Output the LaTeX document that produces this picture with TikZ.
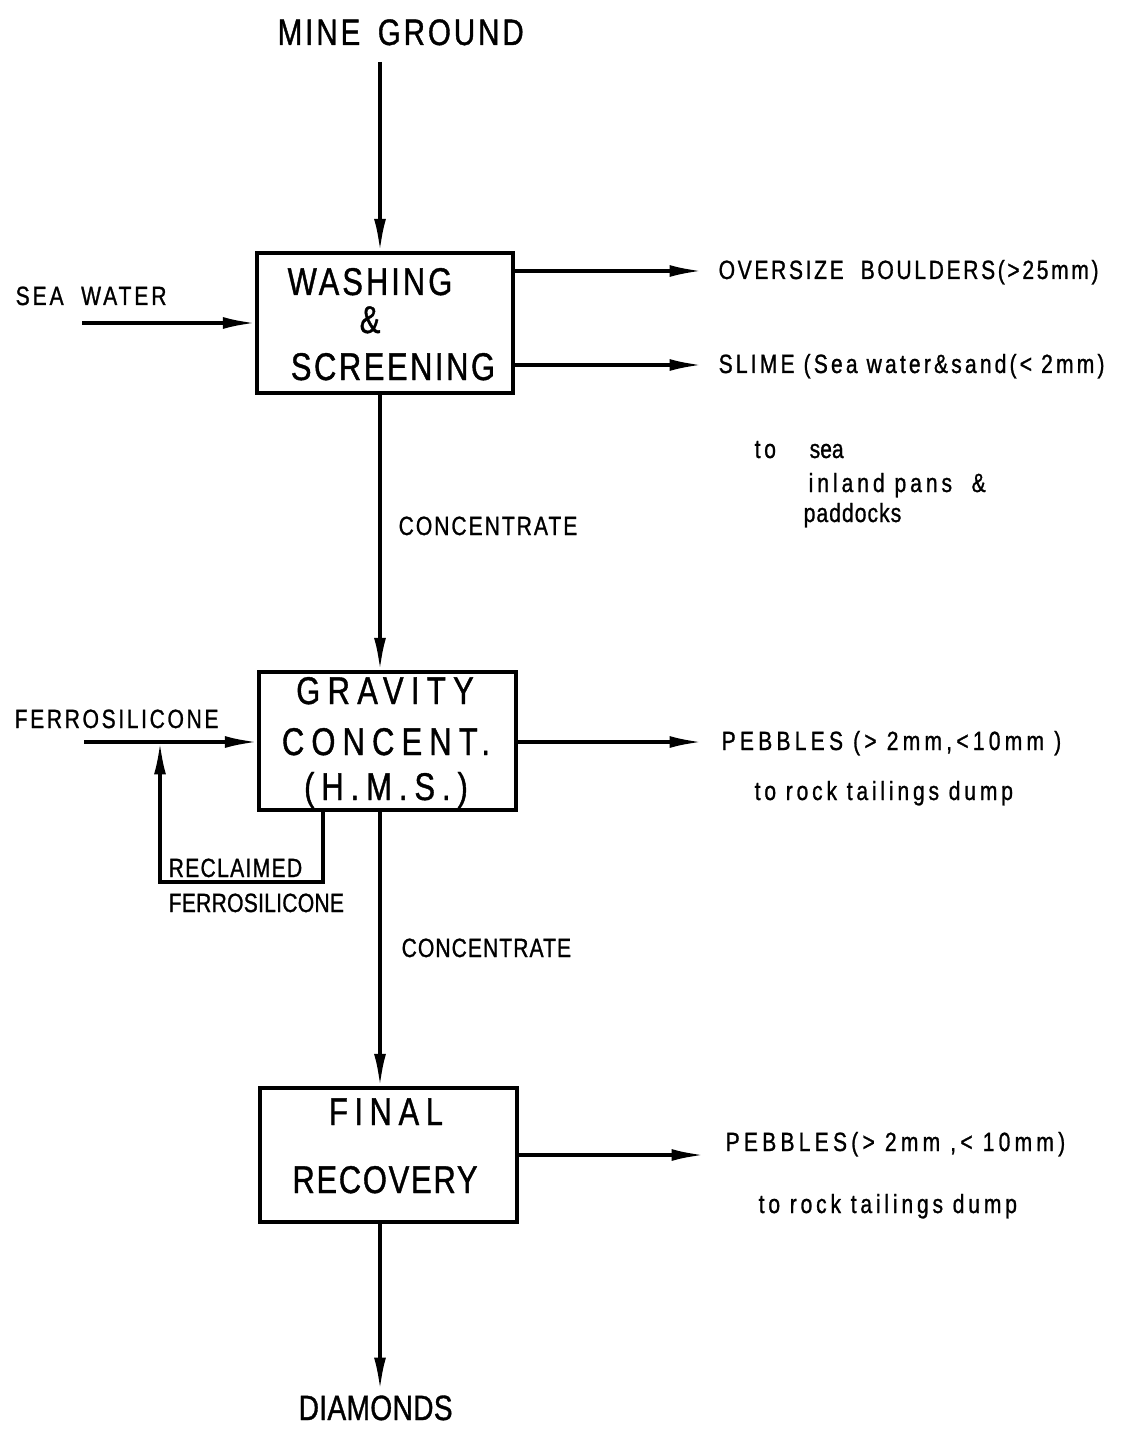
\documentclass[tikz,border=0pt]{standalone}
\usepackage{fontspec}
\setmainfont{Liberation Sans}[FakeStretch=0.8,FakeBold=1]
\usetikzlibrary{arrows.meta}
\newcommand\lf[2]{\fontsize{#1}{#1}\selectfont\addfontfeature{LetterSpace=#2}}
\begin{document}
\begin{tikzpicture}[x=0.02cm,y=-0.02cm,
  line width=1.9pt,
  arr/.style={-{Latex[length=0.65cm,width=0.24cm]}},
  box/.style={draw,line width=1.9pt,inner sep=0pt},
  txt/.style={inner sep=0pt,anchor=base west},
  btx/.style={inner sep=0pt,anchor=base}]
\useasboundingbox (0,0) rectangle (1121,1432);

% top / bottom labels
\node[txt,font=\lf{21}{8}] (mg) at (276,45) {MINE\hspace{0.35cm}GROUND};
\node[txt,font=\lf{20}{1}] (dia) at (297,1420) {DIAMONDS};

% boxes
\node[box,minimum width=5.12cm,minimum height=2.8cm] (wash) at (385,323) {};
\node[box,minimum width=5.14cm,minimum height=2.76cm] (grav) at (387.5,741) {};
\node[box,minimum width=5.14cm,minimum height=2.68cm] (fin) at (388.5,1155) {};

% box texts
\node[btx,font=\lf{22}{7.8}] (w1) at (370,295) {WASHING};
\node[btx,font=\lf{22}{0}] (w2) at (370,333) {\&};
\node[btx,font=\lf{22}{6.6}] (w3) at (393,380) {SCREENING};
\node[btx,font=\lf{22}{19}] (g1) at (385,704) {GRAVITY};
\node[btx,font=\lf{22}{18.5}] (g2) at (386,755) {CONCENT.};
\node[btx,font=\lf{22}{18}] (g3) at (386,800) {(H.M.S.)};
\node[btx,font=\lf{22}{17}] (f1) at (386,1125) {FINAL};
\node[btx,font=\lf{22}{4.5}] (f2) at (385,1193) {RECOVERY};

% spine
\coordinate (s0) at (380,62);
\draw[arr] (s0) -- (s0 |- wash.north);
\coordinate (s1) at (380,393);
\draw[arr] (s1 |- wash.south) -- (s1 |- grav.north);
\draw[arr] (s1 |- grav.south) -- (s1 |- fin.north);
\coordinate (s3) at (380,1390);
\draw[arr] (s3 |- fin.south) -- (s3);

\node[txt,font=\lf{15}{7.5}] (c1) at (397,535) {CONCENTRATE};
\node[txt,font=\lf{15}{4}] (c2) at (400,957) {CONCENTRATE};

% inputs
\node[txt,font=\lf{15}{11}] (sw) at (14,305) {SEA\ \ WATER};
\coordinate (swa) at (82,323);
\draw[arr] (swa) -- (swa -| wash.west);

\node[txt,font=\lf{15}{10}] (fs) at (13,728) {FERROSILICONE};
\coordinate (fsa) at (84,742);
\draw[arr] (fsa) -- (fsa -| grav.west);

% reclaimed loop
\coordinate (r1) at (323,882);
\coordinate (r2) at (160,882);
\coordinate (r3) at (160,742);
\draw[arr] (r1 |- grav.south) -- (r1) -- (r2) -- (r3);
\node[txt,font=\lf{15}{5}] (rc) at (167,877) {RECLAIMED};
\node[txt,font=\lf{15}{1}] (rf) at (167,912) {FERROSILICONE};

% outputs washing
\coordinate (o1) at (702,271);
\draw[arr] (o1 -| wash.east) -- (o1);
\node[txt,font=\lf{15}{10}] (ob) at (717,279) {OVERSIZE\ \ BOULDERS(>25mm)};
\coordinate (o2) at (702,365);
\draw[arr] (o2 -| wash.east) -- (o2);
\node[txt,font=\lf{15}{12}] (sl) at (717,373) {SLIME (Sea water\&sand(< 2mm)};
\node[txt,font=\lf{15}{14}] (ts) at (753,458) {to};
\node[txt,font=\lf{15}{0}] (se) at (808,458) {sea};
\node[txt,font=\lf{15}{15}] (ip) at (807,492) {inland pans\ \ \&};
\node[txt,font=\lf{15}{4}] (pd) at (802,522) {paddocks};

% outputs gravity
\coordinate (o3) at (702,742);
\draw[arr] (o3 -| grav.east) -- (o3);
\node[txt,font=\lf{15}{16}] (p1) at (720,750) {PEBBLES (> 2mm,<10mm )};
\node[txt,font=\lf{15}{14.5}] (t1) at (753,800) {to rock tailings dump};

% outputs final
\coordinate (o4) at (704,1155);
\draw[arr] (o4 -| fin.east) -- (o4);
\node[txt,font=\lf{15}{16}] (p2) at (724,1151) {PEBBLES(> 2mm ,< 10mm)};
\node[txt,font=\lf{15}{14.5}] (t2) at (757,1213) {to rock tailings dump};
\end{tikzpicture}
\end{document}
